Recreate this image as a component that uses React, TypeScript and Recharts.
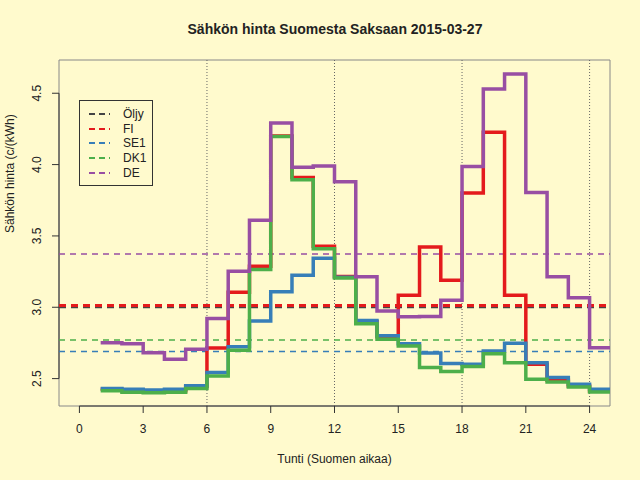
import React from 'react';
import {
  LineChart,
  Line,
  XAxis,
  YAxis,
  ReferenceLine,
  ReferenceArea,
  Legend,
} from 'recharts';

// hourly prices c/kWh, hours 1..24 (Finnish time)
const hours = [1, 2, 3, 4, 5, 6, 7, 8, 9, 10, 11, 12, 13, 14, 15, 16, 17, 18, 19, 20, 21, 22, 23, 24];
const fi = [2.425, 2.415, 2.41, 2.415, 2.444, 2.714, 3.106, 3.288, 4.201, 3.91, 3.427, 3.215, 2.899, 2.794, 3.085, 3.423, 3.19, 3.8, 4.227, 3.085, 2.6, 2.488, 2.448, 2.413];
const se1 = [2.43, 2.425, 2.42, 2.425, 2.45, 2.542, 2.724, 2.903, 3.108, 3.225, 3.343, 3.21, 2.907, 2.8, 2.745, 2.68, 2.605, 2.6, 2.693, 2.747, 2.612, 2.507, 2.46, 2.425];
const dk1 = [2.415, 2.405, 2.4, 2.405, 2.43, 2.518, 2.698, 3.264, 4.196, 3.894, 3.41, 3.205, 2.884, 2.775, 2.728, 2.577, 2.549, 2.584, 2.675, 2.612, 2.495, 2.476, 2.442, 2.407];
const de = [2.752, 2.745, 2.682, 2.635, 2.705, 2.922, 3.253, 3.609, 4.292, 3.982, 3.99, 3.88, 3.213, 2.973, 2.934, 2.936, 3.05, 3.987, 4.53, 4.635, 3.805, 3.213, 3.066, 2.716];

// daily reference levels (dashed lines)
const oil = 3.003;
const fiMean = 3.012;
const se1Mean = 2.69;
const dk1Mean = 2.77;
const deMean = 3.374;

const xTicks = [0, 3, 6, 9, 12, 15, 18, 21, 24];
const yTicks = [2.5, 3.0, 3.5, 4.0, 4.5];
const gridHours = [6, 12, 18, 24];

const BG = '#FFFACD';
const FONT = '"Liberation Sans", Arial, Helvetica, sans-serif';

const series = [
  { key: 'fi', name: 'FI', color: '#E41A1C' },
  { key: 'se1', name: 'SE1', color: '#377EB8' },
  { key: 'dk1', name: 'DK1', color: '#4DAF4A' },
  { key: 'de', name: 'DE', color: '#984EA3' },
];

const legendItems = [{ name: 'Öljy', color: '#444444' }, ...series];

// one extra point at 25 so the last step is drawn to the end of hour 24
const data = [...hours, 25].map((h, i) => {
  const j = Math.min(i, hours.length - 1);
  return { hour: h, fi: fi[j], se1: se1[j], dk1: dk1[j], de: de[j] };
});

const YTick = (props: any) => {
  const { x, y, payload } = props;
  const tx = x - 9;
  return (
    <text
      x={tx}
      y={y}
      transform={`rotate(-90, ${tx}, ${y})`}
      textAnchor="middle"
      fontSize={12}
      fontFamily={FONT}
      fill="#222"
    >
      {payload.value.toFixed(1)}
    </text>
  );
};

const renderLegend = () => (
  <div
    style={{
      border: '1px solid #333',
      background: BG,
      width: 72,
      padding: '6px 0 5px 0',
      fontFamily: FONT,
      fontSize: 12,
      color: '#222',
      boxSizing: 'content-box',
    }}
  >
    {legendItems.map((it) => (
      <div key={it.name} style={{ display: 'flex', alignItems: 'center', height: 14.6 }}>
        <svg width={43} height={6}>
          <line x1={9} y1={3} x2={30} y2={3} stroke={it.color} strokeWidth={2} strokeDasharray="6 4" />
        </svg>
        <span>{it.name}</span>
      </div>
    ))}
  </div>
);

export default function App() {
  return (
    <div style={{ position: 'fixed', left: 0, top: 0, width: 640, height: 480, background: BG }}>
      <div
        style={{
          position: 'absolute',
          top: 21,
          width: 640,
          left: 15,
          textAlign: 'center',
          fontFamily: FONT,
          fontWeight: 'bold',
          fontSize: 14,
          color: '#222',
        }}
      >
        Sähkön hinta Suomesta Saksaan 2015-03-27
      </div>
      <LineChart width={640} height={480} data={data} margin={{ top: 60, right: 30, bottom: 0, left: 0 }}>
        <XAxis
          dataKey="hour"
          type="number"
          domain={[-0.96, 24.96]}
          allowDataOverflow
          ticks={xTicks}
          interval={0}
          axisLine={false}
          tickSize={7}
          tickMargin={11}
          tickLine={{ stroke: '#333' }}
          tick={{ fontSize: 12, fontFamily: FONT, fill: '#222' }}
          height={74}
          label={{ value: 'Tunti (Suomen aikaa)', position: 'insideBottom', offset: 17, fontSize: 12, fontFamily: FONT, fill: '#222' }}
        />
        <YAxis
          type="number"
          domain={[2.308, 4.733]}
          allowDataOverflow
          ticks={yTicks}
          interval={0}
          axisLine={false}
          tickSize={7}
          tickLine={{ stroke: '#333' }}
          tick={<YTick />}
          width={59}
          label={{ value: 'Sähkön hinta (c/(kWh)', angle: -90, position: 'insideLeft', offset: 10, fontSize: 12, fontFamily: FONT, fill: '#222' }}
        />
        <ReferenceArea x1={-0.96} x2={24.96} y1={2.308} y2={4.733} fill="none" stroke="#888" strokeWidth={1} />
        <ReferenceLine segment={[{ x: 0, y: 2.308 }, { x: 24, y: 2.308 }]} stroke="#333" />
        <ReferenceLine segment={[{ x: -0.96, y: 2.5 }, { x: -0.96, y: 4.5 }]} stroke="#333" />
        {gridHours.map((h) => (
          <ReferenceLine key={h} x={h} stroke="#666" strokeDasharray="1 2" />
        ))}
        <ReferenceLine y={deMean} stroke="#984EA3" strokeWidth={1.5} strokeDasharray="6 5" />
        <ReferenceLine y={dk1Mean} stroke="#4DAF4A" strokeWidth={1.5} strokeDasharray="6 5" />
        <ReferenceLine y={se1Mean} stroke="#377EB8" strokeWidth={1.5} strokeDasharray="6 5" />
        <ReferenceLine y={oil} stroke="#444444" strokeWidth={3} strokeDasharray="7 5" />
        <ReferenceLine y={fiMean} stroke="#E41A1C" strokeWidth={3} strokeDasharray="7 5" />
        {series.map((s) => (
          <Line
            key={s.key}
            dataKey={s.key}
            name={s.name}
            type="stepAfter"
            stroke={s.color}
            strokeWidth={3.5}
            dot={false}
            activeDot={false}
            isAnimationActive={false}
          />
        ))}
        <Legend
          content={renderLegend}
          layout="vertical"
          verticalAlign="middle"
          align="center"
          wrapperStyle={{ left: 79, top: 100, width: 74 }}
        />
      </LineChart>
    </div>
  );
}
